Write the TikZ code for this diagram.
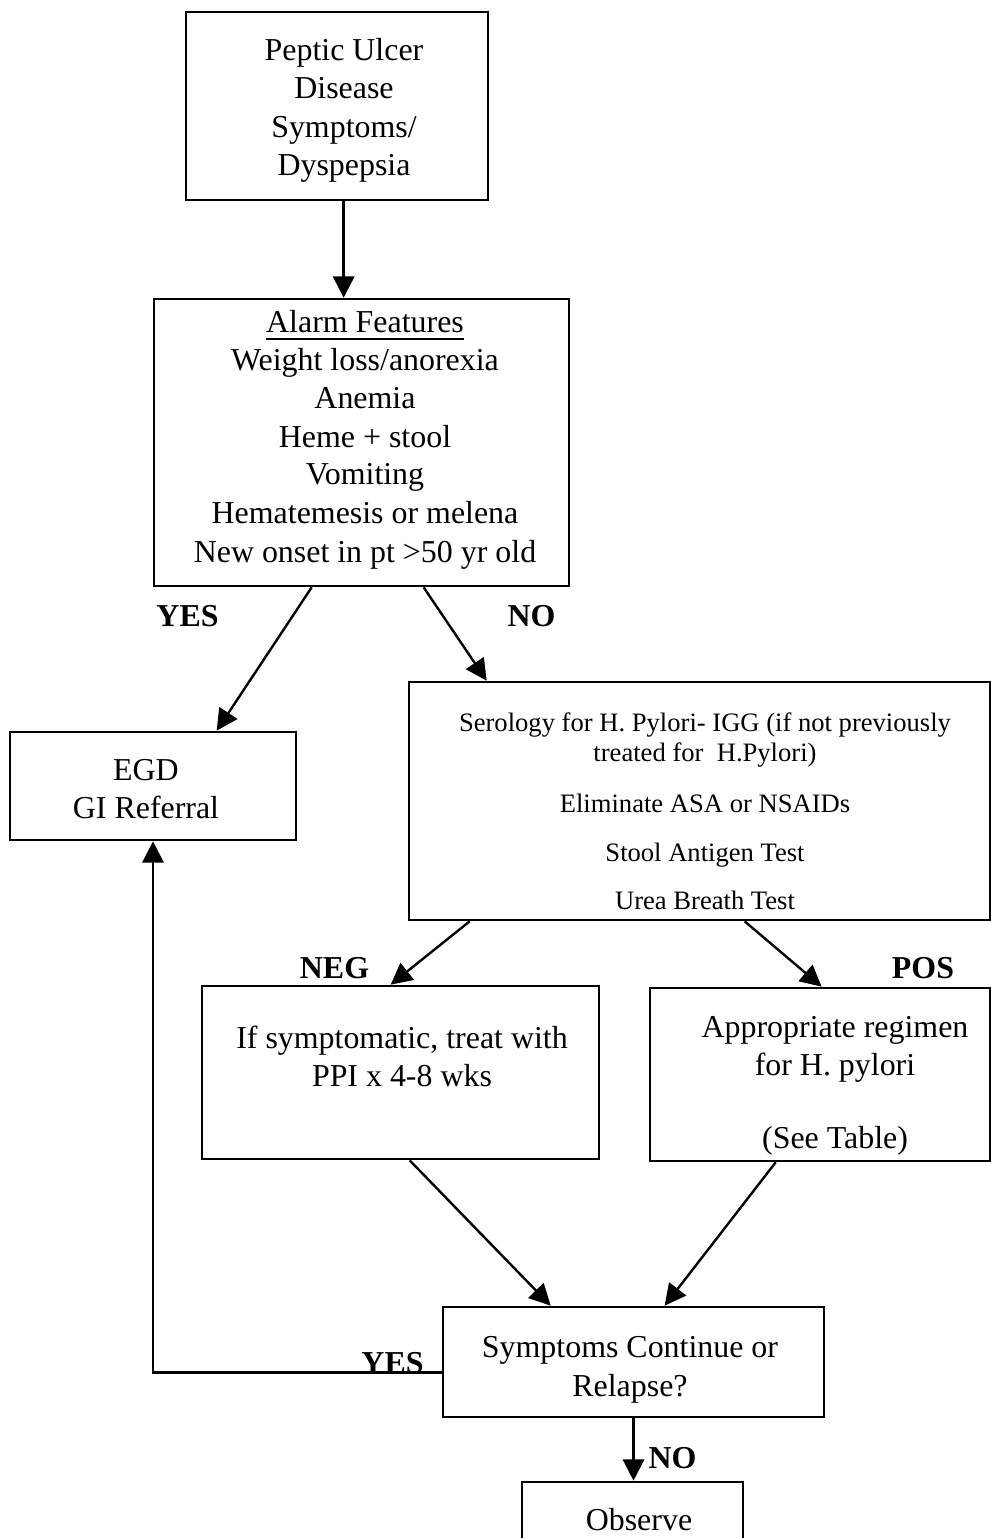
\documentclass[tikz,border=0pt]{standalone}
\usepackage{fontspec}
\setmainfont{Liberation Serif}
\usetikzlibrary{arrows.meta,calc,fit}
\begin{document}
\begin{tikzpicture}[x=0.376pt,y=-0.376pt,
  box/.style={draw, line width=1pt, inner sep=0pt, rectangle},
  arr/.style={line width=0.9pt, -{Triangle[length=8pt,width=8pt]}},
  t/.style={anchor=base, inner sep=0pt, font=\fontsize{12}{14}\selectfont},
  ts/.style={anchor=base, inner sep=0pt, font=\fontsize{10}{12}\selectfont},
  lab/.style={anchor=base, inner sep=0pt, font=\fontsize{12}{14}\selectfont\bfseries}]
\useasboundingbox (0,0) rectangle (991,1538);
\clip (0,0) rectangle (991,1538);

% boxes
\node[box, fit={(186,12) (488,200)}] (top) {};
\node[box, fit={(154,299) (569,586)}] (alarm) {};
\node[box, fit={(10,732) (296,840)}] (egd) {};
\node[box, fit={(409,682) (990,920)}] (sero) {};
\node[box, fit={(202,986) (599,1159)}] (neg) {};
\node[box, fit={(650,988) (990,1161)}] (pos) {};
\node[box, fit={(443,1307) (824,1417)}] (sym) {};
\node[box, fit={(522,1482) (743,1600)}] (obs) {};

% texts
\node[t] (top1) at (344,60) {Peptic Ulcer};
\node[t] (top2) at (344,98) {Disease};
\node[t] (top3) at (344,137) {Symptoms/};
\node[t] (top4) at (344,175) {Dyspepsia};

\node[t] (al1) at (365,332) {Alarm Features};
\draw[line width=0.7pt] ([yshift=-2.5pt]al1.base west) -- ([yshift=-2.5pt]al1.base east);
\node[t] (al2) at (365,370) {Weight loss/anorexia};
\node[t] (al3) at (365,408) {Anemia};
\node[t] (al4) at (365,447) {Heme + stool};
\node[t] (al5) at (365,484) {Vomiting};
\node[t] (al6) at (365,523) {Hematemesis or melena};
\node[t] (al7) at (365,562) {New onset in pt >50 yr old};

\node[t] (eg1) at (146,780) {EGD};
\node[t] (eg2) at (146,818) {GI Referral};

\node[ts] (se1) at (705,731) {Serology for H. Pylori- IGG (if not previously};
\node[ts] (se2) at (705,761) {treated for\ \ H.Pylori)};
\node[ts] (se3) at (705,812) {Eliminate ASA or NSAIDs};
\node[ts] (se4) at (705,861) {Stool Antigen Test};
\node[ts] (se5) at (705,909) {Urea Breath Test};

\node[t] (ng1) at (402,1048) {If symptomatic, treat with};
\node[t] (ng2) at (402,1086) {PPI x 4-8 wks};

\node[t] (ps1) at (835,1037) {Appropriate regimen};
\node[t] (ps2) at (835,1075) {for H. pylori};
\node[t] (ps3) at (835,1148) {(See Table)};

\node[t] (sy1) at (630,1357) {Symptoms Continue or};
\node[t] (sy2) at (630,1396) {Relapse?};

\node[t] (ob1) at (639,1530) {Observe};

% connectors
\draw[arr] ($(top.south west)+(159,0)$) -- ($(alarm.north west)+(191,0)$);
\draw[arr] ($(alarm.south west)+(159,0)$) -- ($(egd.north west)+(208,0)$);
\draw[arr] ($(alarm.south west)+(271,0)$) -- ($(sero.north west)+(79,0)$);
\draw[arr] ($(sero.south west)+(62,0)$) -- ($(neg.north west)+(190,0)$);
\draw[arr] ($(sero.south west)+(337,0)$) -- ($(pos.north west)+(173,0)$);
\draw[arr] ($(neg.south west)+(209,0)$) -- ($(sym.north west)+(109,0)$);
\draw[arr] ($(pos.south west)+(127,0)$) -- ($(sym.north west)+(223,0)$);
\draw[arr] ($(sym.south west)+(0,-46)$) -| (egd.south);
\draw[arr] (sym.south) -- (sym.south |- obs.north);

% labels
\node[lab] (yes1) at (187.5,626) {YES};
\node[lab] (no1) at (531.5,626) {NO};
\node[lab] (negl) at (334.5,978) {NEG};
\node[lab] (posl) at (923,978) {POS};
\node[lab] (yes2) at (392.5,1373) {YES};
\node[lab] (no2) at (672.5,1468) {NO};
\end{tikzpicture}
\end{document}
